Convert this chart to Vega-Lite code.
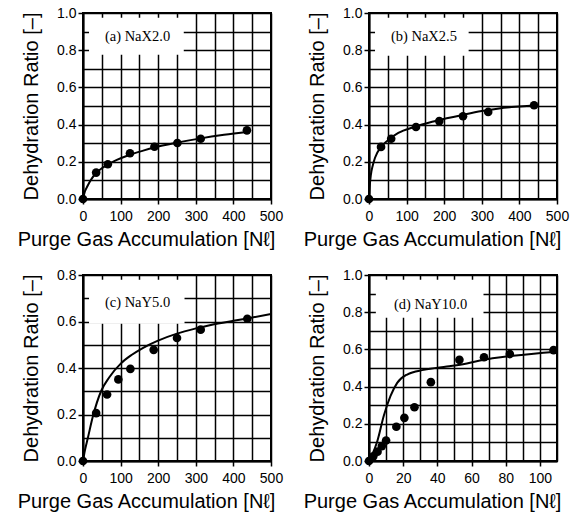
{
  "$schema": "https://vega.github.io/schema/vega-lite/v6.json",
  "padding": {"left": 15, "top": 5, "right": 1, "bottom": 5},
  "background": "white",
  "data": {"values": [
    {"panel":"a","kind":"box","x":16,"x2":268,"y":0.775,"y2":0.975},
    {"panel":"a","kind":"label","x":145,"y":0.873,"label":"(a) NaX2.0"},
    {"panel":"a","kind":"point","x":0,"y":0},
    {"panel":"a","kind":"point","x":35,"y":0.142},
    {"panel":"a","kind":"point","x":66,"y":0.187},
    {"panel":"a","kind":"point","x":125,"y":0.246},
    {"panel":"a","kind":"point","x":190,"y":0.281},
    {"panel":"a","kind":"point","x":251,"y":0.301},
    {"panel":"a","kind":"point","x":313,"y":0.324},
    {"panel":"a","kind":"point","x":436,"y":0.369},
    {"panel":"a","kind":"curve","x":0,"y":0},
    {"panel":"a","kind":"curve","x":5,"y":0.04},
    {"panel":"a","kind":"curve","x":12,"y":0.07},
    {"panel":"a","kind":"curve","x":20,"y":0.1},
    {"panel":"a","kind":"curve","x":35,"y":0.14},
    {"panel":"a","kind":"curve","x":50,"y":0.165},
    {"panel":"a","kind":"curve","x":66,"y":0.185},
    {"panel":"a","kind":"curve","x":90,"y":0.21},
    {"panel":"a","kind":"curve","x":125,"y":0.238},
    {"panel":"a","kind":"curve","x":160,"y":0.26},
    {"panel":"a","kind":"curve","x":190,"y":0.277},
    {"panel":"a","kind":"curve","x":250,"y":0.303},
    {"panel":"a","kind":"curve","x":313,"y":0.326},
    {"panel":"a","kind":"curve","x":375,"y":0.345},
    {"panel":"a","kind":"curve","x":440,"y":0.362},
    {"panel":"b","kind":"box","x":16,"x2":265,"y":0.77,"y2":0.975},
    {"panel":"b","kind":"label","x":146,"y":0.873,"label":"(b) NaX2.5"},
    {"panel":"b","kind":"point","x":0,"y":0},
    {"panel":"b","kind":"point","x":32,"y":0.28},
    {"panel":"b","kind":"point","x":59,"y":0.324},
    {"panel":"b","kind":"point","x":125,"y":0.387},
    {"panel":"b","kind":"point","x":187,"y":0.419},
    {"panel":"b","kind":"point","x":250,"y":0.445},
    {"panel":"b","kind":"point","x":317,"y":0.468},
    {"panel":"b","kind":"point","x":439,"y":0.504},
    {"panel":"b","kind":"curve","x":0,"y":0},
    {"panel":"b","kind":"curve","x":2,"y":0.07},
    {"panel":"b","kind":"curve","x":5,"y":0.13},
    {"panel":"b","kind":"curve","x":10,"y":0.18},
    {"panel":"b","kind":"curve","x":16,"y":0.222},
    {"panel":"b","kind":"curve","x":32,"y":0.28},
    {"panel":"b","kind":"curve","x":50,"y":0.315},
    {"panel":"b","kind":"curve","x":78,"y":0.355},
    {"panel":"b","kind":"curve","x":120,"y":0.387},
    {"panel":"b","kind":"curve","x":168,"y":0.415},
    {"panel":"b","kind":"curve","x":210,"y":0.435},
    {"panel":"b","kind":"curve","x":257,"y":0.456},
    {"panel":"b","kind":"curve","x":300,"y":0.473},
    {"panel":"b","kind":"curve","x":346,"y":0.487},
    {"panel":"b","kind":"curve","x":400,"y":0.497},
    {"panel":"b","kind":"curve","x":440,"y":0.503},
    {"panel":"c","kind":"box","x":16,"x2":270,"y":0.59,"y2":0.78},
    {"panel":"c","kind":"label","x":145,"y":0.68,"label":"(c) NaY5.0"},
    {"panel":"c","kind":"point","x":0,"y":0},
    {"panel":"c","kind":"point","x":35,"y":0.206},
    {"panel":"c","kind":"point","x":64,"y":0.286},
    {"panel":"c","kind":"point","x":94,"y":0.351},
    {"panel":"c","kind":"point","x":126,"y":0.396},
    {"panel":"c","kind":"point","x":188,"y":0.478},
    {"panel":"c","kind":"point","x":250,"y":0.529},
    {"panel":"c","kind":"point","x":313,"y":0.565},
    {"panel":"c","kind":"point","x":437,"y":0.612},
    {"panel":"c","kind":"curve","x":0,"y":0},
    {"panel":"c","kind":"curve","x":5,"y":0.045},
    {"panel":"c","kind":"curve","x":13,"y":0.1},
    {"panel":"c","kind":"curve","x":26,"y":0.19},
    {"panel":"c","kind":"curve","x":48,"y":0.3},
    {"panel":"c","kind":"curve","x":70,"y":0.36},
    {"panel":"c","kind":"curve","x":101,"y":0.42},
    {"panel":"c","kind":"curve","x":130,"y":0.457},
    {"panel":"c","kind":"curve","x":160,"y":0.487},
    {"panel":"c","kind":"curve","x":198,"y":0.517},
    {"panel":"c","kind":"curve","x":250,"y":0.548},
    {"panel":"c","kind":"curve","x":300,"y":0.57},
    {"panel":"c","kind":"curve","x":340,"y":0.585},
    {"panel":"c","kind":"curve","x":400,"y":0.603},
    {"panel":"c","kind":"curve","x":450,"y":0.617},
    {"panel":"c","kind":"curve","x":500,"y":0.632},
    {"panel":"d","kind":"box","x":4,"x2":67,"y":0.77,"y2":0.975},
    {"panel":"d","kind":"label","x":36,"y":0.837,"label":"(d) NaY10.0"},
    {"panel":"d","kind":"point","x":0,"y":0},
    {"panel":"d","kind":"point","x":2.5,"y":0.025},
    {"panel":"d","kind":"point","x":5,"y":0.05},
    {"panel":"d","kind":"point","x":7.5,"y":0.08},
    {"panel":"d","kind":"point","x":10,"y":0.11},
    {"panel":"d","kind":"point","x":16,"y":0.184},
    {"panel":"d","kind":"point","x":20.7,"y":0.232},
    {"panel":"d","kind":"point","x":26.6,"y":0.289},
    {"panel":"d","kind":"point","x":36.2,"y":0.424},
    {"panel":"d","kind":"point","x":52.9,"y":0.544},
    {"panel":"d","kind":"point","x":67.3,"y":0.558},
    {"panel":"d","kind":"point","x":82.4,"y":0.575},
    {"panel":"d","kind":"point","x":108,"y":0.596},
    {"panel":"d","kind":"curve","x":0,"y":0},
    {"panel":"d","kind":"curve","x":1.9,"y":0.035},
    {"panel":"d","kind":"curve","x":4.8,"y":0.105},
    {"panel":"d","kind":"curve","x":8.7,"y":0.245},
    {"panel":"d","kind":"curve","x":12.6,"y":0.35},
    {"panel":"d","kind":"curve","x":16.5,"y":0.42},
    {"panel":"d","kind":"curve","x":22.3,"y":0.465},
    {"panel":"d","kind":"curve","x":32,"y":0.49},
    {"panel":"d","kind":"curve","x":45.5,"y":0.508},
    {"panel":"d","kind":"curve","x":55,"y":0.52},
    {"panel":"d","kind":"curve","x":64.9,"y":0.54},
    {"panel":"d","kind":"curve","x":84.3,"y":0.566},
    {"panel":"d","kind":"curve","x":110,"y":0.588}
  ]},
  "columns": 2,
  "bounds": "flush",
  "spacing": {"row": 76, "column": 98},
  "concat": [
    {
      "width": 188, "height": 186,
      "transform": [{"filter": "datum.panel === 'a'"}],
      "encoding": {
        "x": {"field": "x", "type": "quantitative", "scale": {"domain": [0, 500], "nice": false},
          "axis": {"title": "Purge Gas Accumulation [Nℓ]", "values": [0,50,100,150,200,250,300,350,400,450,500],
            "labelExpr": "datum.value % 100 === 0 ? datum.label : ''",
            "tickOpacity": {"condition": {"test": "datum.value % 100 !== 0", "value": 0}, "value": 1}}},
        "y": {"field": "y", "type": "quantitative", "scale": {"domain": [0, 1], "nice": false},
          "axis": {"title": "Dehydration Ratio [–]", "values": [0,0.1,0.2,0.3,0.4,0.5,0.6,0.7,0.8,0.9,1.0], "format": ".1f",
            "labelExpr": "round(datum.value*10) % 2 === 0 ? datum.label : ''",
            "tickOpacity": {"condition": {"test": "round(datum.value*10) % 2 !== 0", "value": 0}, "value": 1}}}
      },
      "layer": [
        {"transform": [{"filter": "datum.kind === 'box'"}], "mark": {"type": "rect", "fill": "white"}, "encoding": {"x2": {"field": "x2"}, "y2": {"field": "y2"}}},
        {"transform": [{"filter": "datum.kind === 'curve'"}], "mark": {"type": "line", "color": "black", "strokeWidth": 2, "interpolate": "monotone"}, "encoding": {}},
        {"transform": [{"filter": "datum.kind === 'point'"}], "mark": {"type": "point", "filled": true, "color": "black", "size": 75, "opacity": 1}},
        {"transform": [{"filter": "datum.kind === 'label'"}], "mark": {"type": "text", "font": "Liberation Serif", "fontSize": 14.5, "color": "black", "align": "center", "baseline": "middle"}, "encoding": {"text": {"field": "label"}}}
      ]
    },
    {
      "width": 188, "height": 186,
      "transform": [{"filter": "datum.panel === 'b'"}],
      "encoding": {
        "x": {"field": "x", "type": "quantitative", "scale": {"domain": [0, 500], "nice": false},
          "axis": {"title": "Purge Gas Accumulation [Nℓ]", "values": [0,50,100,150,200,250,300,350,400,450,500],
            "labelExpr": "datum.value % 100 === 0 ? datum.label : ''",
            "tickOpacity": {"condition": {"test": "datum.value % 100 !== 0", "value": 0}, "value": 1}}},
        "y": {"field": "y", "type": "quantitative", "scale": {"domain": [0, 1], "nice": false},
          "axis": {"title": "Dehydration Ratio [–]", "values": [0,0.1,0.2,0.3,0.4,0.5,0.6,0.7,0.8,0.9,1.0], "format": ".1f",
            "labelExpr": "round(datum.value*10) % 2 === 0 ? datum.label : ''",
            "tickOpacity": {"condition": {"test": "round(datum.value*10) % 2 !== 0", "value": 0}, "value": 1}}}
      },
      "layer": [
        {"transform": [{"filter": "datum.kind === 'box'"}], "mark": {"type": "rect", "fill": "white"}, "encoding": {"x2": {"field": "x2"}, "y2": {"field": "y2"}}},
        {"transform": [{"filter": "datum.kind === 'curve'"}], "mark": {"type": "line", "color": "black", "strokeWidth": 2, "interpolate": "monotone"}, "encoding": {}},
        {"transform": [{"filter": "datum.kind === 'point'"}], "mark": {"type": "point", "filled": true, "color": "black", "size": 75, "opacity": 1}},
        {"transform": [{"filter": "datum.kind === 'label'"}], "mark": {"type": "text", "font": "Liberation Serif", "fontSize": 14.5, "color": "black", "align": "center", "baseline": "middle"}, "encoding": {"text": {"field": "label"}}}
      ]
    },
    {
      "width": 188, "height": 186,
      "transform": [{"filter": "datum.panel === 'c'"}],
      "encoding": {
        "x": {"field": "x", "type": "quantitative", "scale": {"domain": [0, 500], "nice": false},
          "axis": {"title": "Purge Gas Accumulation [Nℓ]", "values": [0,50,100,150,200,250,300,350,400,450,500],
            "labelExpr": "datum.value % 100 === 0 ? datum.label : ''",
            "tickOpacity": {"condition": {"test": "datum.value % 100 !== 0", "value": 0}, "value": 1}}},
        "y": {"field": "y", "type": "quantitative", "scale": {"domain": [0, 0.8], "nice": false},
          "axis": {"title": "Dehydration Ratio [–]", "values": [0,0.1,0.2,0.3,0.4,0.5,0.6,0.7,0.8], "format": ".1f",
            "labelExpr": "round(datum.value*10) % 2 === 0 ? datum.label : ''",
            "tickOpacity": {"condition": {"test": "round(datum.value*10) % 2 !== 0", "value": 0}, "value": 1}}}
      },
      "layer": [
        {"transform": [{"filter": "datum.kind === 'box'"}], "mark": {"type": "rect", "fill": "white"}, "encoding": {"x2": {"field": "x2"}, "y2": {"field": "y2"}}},
        {"transform": [{"filter": "datum.kind === 'curve'"}], "mark": {"type": "line", "color": "black", "strokeWidth": 2, "interpolate": "monotone"}, "encoding": {}},
        {"transform": [{"filter": "datum.kind === 'point'"}], "mark": {"type": "point", "filled": true, "color": "black", "size": 75, "opacity": 1}},
        {"transform": [{"filter": "datum.kind === 'label'"}], "mark": {"type": "text", "font": "Liberation Serif", "fontSize": 14.5, "color": "black", "align": "center", "baseline": "middle"}, "encoding": {"text": {"field": "label"}}}
      ]
    },
    {
      "width": 188, "height": 186,
      "transform": [{"filter": "datum.panel === 'd'"}],
      "encoding": {
        "x": {"field": "x", "type": "quantitative", "scale": {"domain": [0, 110], "nice": false},
          "axis": {"title": "Purge Gas Accumulation [Nℓ]", "values": [0,10,20,30,40,50,60,70,80,90,100,110],
            "labelExpr": "datum.value % 20 === 0 ? datum.label : ''",
            "tickOpacity": {"condition": {"test": "datum.value % 20 !== 0", "value": 0}, "value": 1}}},
        "y": {"field": "y", "type": "quantitative", "scale": {"domain": [0, 1], "nice": false},
          "axis": {"title": "Dehydration Ratio [–]", "values": [0,0.1,0.2,0.3,0.4,0.5,0.6,0.7,0.8,0.9,1.0], "format": ".1f",
            "labelExpr": "round(datum.value*10) % 2 === 0 ? datum.label : ''",
            "tickOpacity": {"condition": {"test": "round(datum.value*10) % 2 !== 0", "value": 0}, "value": 1}}}
      },
      "layer": [
        {"transform": [{"filter": "datum.kind === 'box'"}], "mark": {"type": "rect", "fill": "white"}, "encoding": {"x2": {"field": "x2"}, "y2": {"field": "y2"}}},
        {"transform": [{"filter": "datum.kind === 'curve'"}], "mark": {"type": "line", "color": "black", "strokeWidth": 2, "interpolate": "monotone"}, "encoding": {}},
        {"transform": [{"filter": "datum.kind === 'point'"}], "mark": {"type": "point", "filled": true, "color": "black", "size": 75, "opacity": 1}},
        {"transform": [{"filter": "datum.kind === 'label'"}], "mark": {"type": "text", "font": "Liberation Serif", "fontSize": 14.5, "color": "black", "align": "center", "baseline": "middle"}, "encoding": {"text": {"field": "label"}}}
      ]
    }
  ],
  "config": {
    "font": "Liberation Sans",
    "view": {"stroke": "black", "strokeWidth": 2},
    "axis": {
      "domainColor": "black", "domainWidth": 2,
      "gridColor": "black", "gridWidth": 1.5, "gridOpacity": 1,
      "tickColor": "black", "tickWidth": 1.5, "tickSize": 5,
      "labelFont": "Liberation Sans", "labelFontSize": 14, "labelColor": "black", "labelPadding": 2, "labelFlush": false,
      "titleFont": "Liberation Sans", "titleFontSize": 20, "titleFontWeight": "normal", "titleColor": "black"
    },
    "axisX": {"titlePadding": 6, "labelPadding": 5, "titleX": 63, "titleAnchor": "middle"},
    "axisY": {"titlePadding": 15}
  }
}
